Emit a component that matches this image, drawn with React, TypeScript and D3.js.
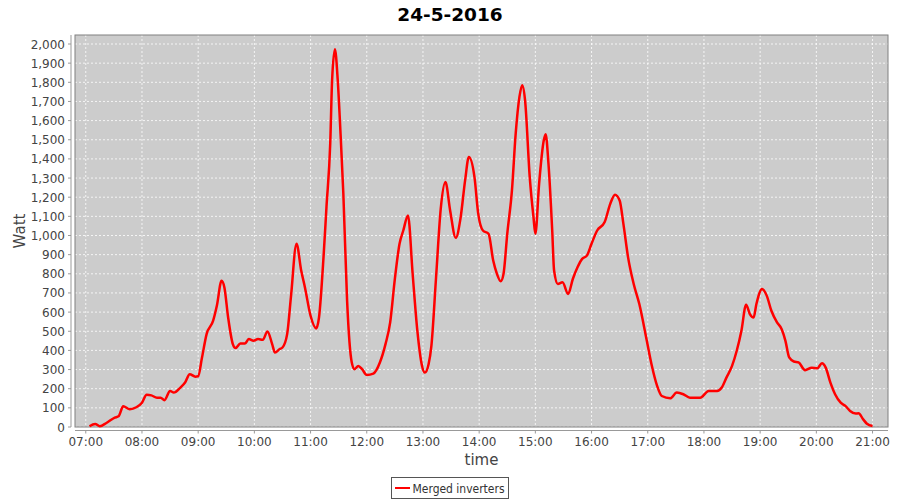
import React from "react";
import * as d3 from "d3";

const title = "24-5-2016";
const seriesName = "Merged inverters";
const yLabel = "Watt";
const xLabel = "time";

const times = [
  "07:04","07:10","07:15","07:22","07:31","07:35","07:40","07:47","07:54","08:00",
  "08:05","08:10","08:16","08:20","08:24","08:30","08:34","08:41","08:46","08:51",
  "08:57","09:00","09:04","09:09","09:16","09:20","09:25","09:28","09:32","09:37",
  "09:40","09:45","09:50","09:54","09:59","10:04","10:09","10:14","10:19","10:22",
  "10:27","10:30","10:35","10:39","10:45","10:50","10:54","11:00","11:06","11:09",
  "11:14","11:17","11:21","11:23","11:26","11:29","11:32","11:35","11:39","11:44",
  "11:47","11:51","11:55","12:00","12:07","12:14","12:20","12:25","12:30","12:35",
  "12:39","12:44","12:49","12:54","12:59","13:02","13:06","13:09","13:14","13:19",
  "13:24","13:29","13:35","13:40","13:45","13:49","13:55","13:59","14:04","14:10",
  "14:15","14:19","14:23","14:26","14:30","14:35","14:39","14:43","14:46","14:49",
  "14:54","14:58","15:00","15:04","15:09","15:11","15:14","15:18","15:20","15:24",
  "15:29","15:35","15:40","15:45","15:50","15:55","16:00","16:06","16:14","16:20",
  "16:25","16:30","16:34","16:39","16:45","16:51","16:59","17:04","17:10","17:15",
  "17:24","17:31","17:38","17:45","17:56","18:05","18:14","18:19","18:24","18:30",
  "18:35","18:40","18:45","18:49","18:53","18:56","19:02","19:07","19:12","19:18",
  "19:23","19:27","19:31","19:36","19:41","19:48","19:55","20:01","20:06","20:10",
  "20:15","20:20","20:26","20:31","20:36","20:42","20:45","20:50","20:54","21:00"
];

const watts = [
  4,16,4,21,49,56,108,93,103,127,
  168,165,153,153,140,188,180,206,232,276,
  263,265,360,485,555,634,764,729,572,433,
  412,436,436,459,450,459,455,499,433,389,
  407,415,485,677,957,817,729,581,515,572,
  900,1150,1480,1812,1972,1812,1532,1218,660,337,
  302,319,302,272,279,337,433,546,773,957,
  1026,1105,799,503,319,284,328,424,782,1140,
  1279,1131,988,1087,1288,1410,1305,1114,1026,1009,
  869,799,761,799,1009,1236,1532,1724,1785,1707,
  1305,1096,1009,1270,1497,1529,1375,1026,817,747,
  756,695,773,834,878,895,957,1026,1070,1166,
  1213,1183,1061,886,747,642,450,328,215,162,
  150,180,171,153,153,188,188,206,258,319,
  398,503,639,590,572,642,721,686,607,546,
  511,450,363,342,337,297,310,307,333,310,
  232,171,127,110,84,70,72,40,17,5
];

const xTickLabels = [
  "07:00","08:00","09:00","10:00","11:00","12:00","13:00",
  "14:00","15:00","16:00","17:00","18:00","19:00","20:00","21:00"
];
const yTicks = [0,100,200,300,400,500,600,700,800,900,1000,1100,1200,1300,1400,1500,1600,1700,1800,1900,2000];

const parseT = (s: string) => {
  const [h, m] = s.split(":").map(Number);
  return new Date(2016, 4, 24, h, m, 0);
};

export default function App() {
  const W = 900, H = 500;
  const L = 75, R = 888, T = 35, B = 427;
  const font = "'DejaVu Sans', sans-serif";

  const x = d3.scaleTime()
    .domain([new Date(2016, 4, 24, 6, 48, 30), new Date(2016, 4, 24, 21, 16, 30)])
    .range([L, R]);
  const y = d3.scaleLinear().domain([0, 2047]).range([B, T]);

  const data = times.map((t, i) => ({ t: parseT(t), v: watts[i] }));
  const line = d3.line<{ t: Date; v: number }>()
    .x(d => x(d.t))
    .y(d => y(d.v))
    .curve(d3.curveMonotoneX);

  const fmtY = d3.format(",");

  return (
    <svg width={W} height={H} style={{ position: "absolute", left: 0, top: 0, background: "#fff" }} fontFamily={font}>
      <rect x={0} y={0} width={W} height={H} fill="#fff" />
      <text x={450} y={20.5} textAnchor="middle" fontSize={18.5} fontWeight="bold" fill="#000">{title}</text>

      <rect x={L} y={T} width={R - L} height={B - T} fill="#cccccc" />
      {yTicks.map(v => (
        <line key={"gy" + v} x1={L} x2={R} y1={y(v)} y2={y(v)} stroke="#fff" strokeWidth={0.8} strokeDasharray="2,2" />
      ))}
      {xTickLabels.map(s => (
        <line key={"gx" + s} x1={x(parseT(s))} x2={x(parseT(s))} y1={T} y2={B} stroke="#fff" strokeWidth={0.8} strokeDasharray="2,2" />
      ))}
      <rect x={L} y={T} width={R - L} height={B - T} fill="none" stroke="#808080" strokeWidth={1} />

      <path d={line(data) || ""} fill="none" stroke="#ff0000" strokeWidth={2.5} strokeLinejoin="round" />

      {/* Y axis */}
      <line x1={71} x2={71} y1={T} y2={B} stroke="#999" strokeWidth={1} />
      {yTicks.map(v => (
        <g key={"ty" + v}>
          <line x1={68} x2={71} y1={y(v)} y2={y(v)} stroke="#999" />
          <text x={65} y={y(v) + 4.5} textAnchor="end" fontSize={12} fill="#444">{fmtY(v)}</text>
        </g>
      ))}
      <text transform={`translate(25,${(T + B) / 2}) rotate(-90)`} textAnchor="middle" fontSize={15} fill="#444">{yLabel}</text>

      {/* X axis */}
      <line x1={L} x2={R} y1={430.5} y2={430.5} stroke="#999" strokeWidth={1} />
      {xTickLabels.map(s => (
        <g key={"tx" + s}>
          <line x1={x(parseT(s))} x2={x(parseT(s))} y1={430.5} y2={433.5} stroke="#999" />
          <text x={x(parseT(s))} y={446} textAnchor="middle" fontSize={12} fill="#444">{s}</text>
        </g>
      ))}
      <text x={(L + R) / 2} y={465} textAnchor="middle" fontSize={15} fill="#444">{xLabel}</text>

      {/* Legend */}
      <rect x={391.5} y={477.5} width={117} height={21} fill="#fff" stroke="#555" strokeWidth={1} />
      <line x1={395} x2={410} y1={488} y2={488} stroke="#ff0000" strokeWidth={2} />
      <text x={412.5} y={492.5} fontSize={12} fill="#333" textLength={92} lengthAdjust="spacingAndGlyphs">{seriesName}</text>
    </svg>
  );
}
